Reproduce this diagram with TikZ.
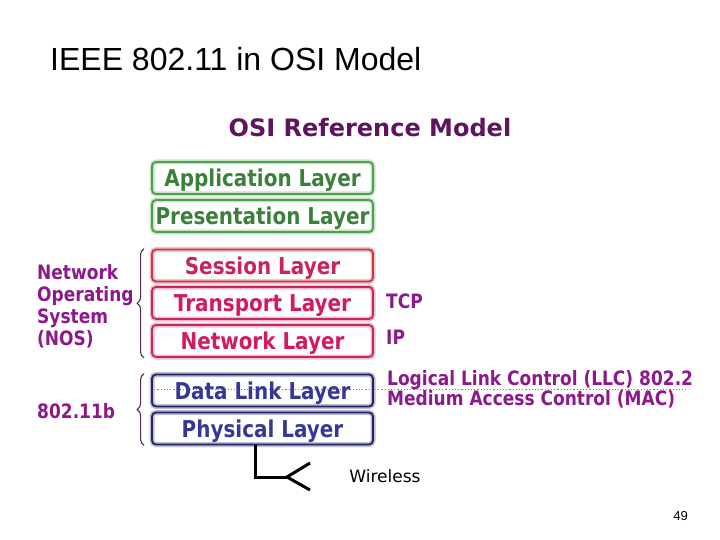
\documentclass[tikz,border=0pt]{standalone}
\usepackage{fontspec}
\setmainfont{DejaVu Sans}
\newfontfamily\arialfont{Liberation Sans}
\newfontfamily\narrowfont{DejaVu Sans}[FakeStretch=0.86]
\usetikzlibrary{decorations.pathreplacing,backgrounds}
\definecolor{appgreen}{RGB}{76,160,76}
\definecolor{appgreentext}{RGB}{58,128,58}
\definecolor{sessred}{RGB}{200,55,70}
\definecolor{sesstext}{RGB}{200,35,95}
\definecolor{netpink}{RGB}{195,40,100}
\definecolor{nettext}{RGB}{210,25,100}
\definecolor{linkblue}{RGB}{35,35,105}
\definecolor{linktext}{RGB}{55,55,150}
\definecolor{labelpurple}{RGB}{140,25,140}
\definecolor{titlepurple}{RGB}{95,20,95}
\definecolor{bracepurple}{RGB}{90,40,80}
\tikzset{
    osilayer/.style 2 args={draw=#1, text=#2, line width=1.8pt, rounded corners=4pt,
      minimum width=221pt, minimum height=32pt, inner sep=0pt,
      text height=17.4pt, text depth=0pt,
      font=\narrowfont\bfseries\fontsize{23.2}{26}\selectfont,
      preaction={draw=#1!30, line width=5pt}},
    sidelabel/.style={text=labelpurple, inner sep=0pt, font=\narrowfont\bfseries\fontsize{19.8}{22}\selectfont},
    bracket/.style={draw=bracepurple, line width=1.1pt, decorate, decoration={brace, amplitude=7pt}},
    antenna/.style={draw=black, line width=3pt},
  }

\begin{document}
\begin{tikzpicture}[x=1pt,y=-1pt]
				  %cadre 720x540, y vers le bas
				  %textes a gauche : anchor=west
				  \useasboundingbox (0,0) rectangle (720,540);
				  \node[anchor=base west, inner sep=0pt, font=\arialfont\fontsize{32}{36}\selectfont](heading) at (50,71) {IEEE 802.11 in OSI Model};
				  \node[text=titlepurple, font=\bfseries\fontsize{24}{28}\selectfont](osi) at (370,128) {OSI Reference Model};

				  \node[osilayer={appgreen}{appgreentext}](app) at (262.5,178) {Application Layer};
				  \node[osilayer={appgreen}{appgreentext}](pres) at (262.5,216) {Presentation Layer};
				  \node[osilayer={sessred}{sesstext}](sess) at (262.5,265.5) {Session Layer};
				  \node[osilayer={netpink}{nettext}](trans) at (262.5,303) {Transport Layer};
				  \node[osilayer={netpink}{nettext}](net) at (262.5,341) {Network Layer};
				  \node[osilayer={linkblue}{linktext}](dl) at (262.5,390.5) {Data Link Layer};
				  \node[osilayer={linkblue}{linktext}](phy) at (262.5,428.5) {Physical Layer};

				  \begin{scope}[on background layer]
				  \draw[dotted, gray, line width=1.2pt] ([xshift=3pt,yshift=1pt]dl.west) -- ++(532,0);
				  \end{scope}

				  \node[sidelabel, align=left, anchor=west](nos) at (37,306) {Network\\Operating\\System\\(NOS)};
				  \node[sidelabel, anchor=west](wlan) at (37,411) {802.11b};
				  \draw[bracket] ([xshift=-7pt]net.south west) -- ([xshift=-7pt]sess.north west);
				  \draw[bracket] ([xshift=-7pt]phy.south west) -- ([xshift=-7pt]dl.north west);

				  \node[sidelabel, anchor=base west](tcp) at (386,308) {TCP};
				  \node[sidelabel, anchor=base west](ip) at (386,344) {IP};
				  \node[sidelabel, anchor=base west](llc) at (387,385) {Logical Link Control (LLC) 802.2};
				  \node[sidelabel, anchor=base west](mac) at (387,405) {Medium Access Control (MAC)};

				  \coordinate(ant) at (287,477);
				  \coordinate(antup) at (310,463);
				  \coordinate(antdown) at (310,490);
				  \draw[antenna] ([xshift=-7.5pt]phy.south) |- (ant);
				  \draw[antenna] (antup) -- (ant) -- (antdown);
				  \node[font=\fontsize{17}{20}\selectfont](wireless) at (385,476) {Wireless};

				  \node[anchor=base east, inner sep=0pt, font=\arialfont\fontsize{13}{15}\selectfont](pagenum) at (688,520) {49};
\end{tikzpicture}
\end{document}
